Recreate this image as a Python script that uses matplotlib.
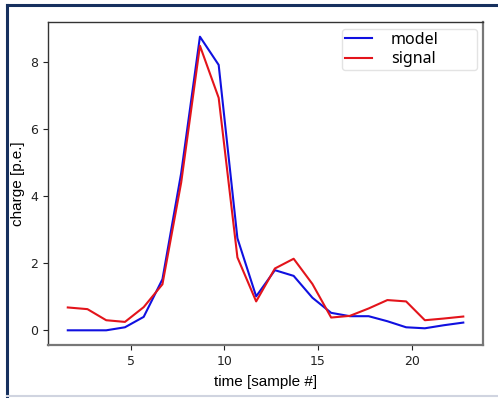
import matplotlib
matplotlib.use("Agg")
import matplotlib.pyplot as plt
from matplotlib.lines import Line2D

time = [1.65, 2.7, 3.7, 4.7, 5.7, 6.7, 7.7, 8.7, 9.7, 10.7, 11.7,
        12.7, 13.7, 14.7, 15.7, 16.7, 17.7, 18.7, 19.7, 20.7, 21.7, 22.75]
model = [0.0, 0.0, 0.0, 0.09, 0.4, 1.52, 4.68, 8.74, 7.9, 2.74, 1.01,
         1.79, 1.62, 0.97, 0.52, 0.42, 0.42, 0.27, 0.09, 0.06, 0.15, 0.23]
signal = [0.68, 0.63, 0.30, 0.25, 0.69, 1.37, 4.4, 8.47, 6.92, 2.17, 0.86,
          1.84, 2.13, 1.38, 0.38, 0.43, 0.65, 0.9, 0.86, 0.30, 0.35, 0.41]
xticks = [5, 10, 15, 20]
yticks = [0, 2, 4, 6, 8]

fig = plt.figure(figsize=(4.98, 3.98), dpi=100)
ax = fig.add_axes([0.0964, 0.1332, 0.8736, 0.8115])

ax.plot(time, model, color="#1010e0", lw=1.5, label="model")
ax.plot(time, signal, color="#e3141b", lw=1.5, label="signal")

ax.set_xticks(xticks)
ax.set_yticks(yticks)
ax.tick_params(labelsize=9, colors="#222222", length=3.5)
for s in ["left", "top"]:
    ax.spines[s].set_color("#333333")
    ax.spines[s].set_linewidth(1.0)
for s in ["right", "bottom"]:
    ax.spines[s].set_color("#777777")
    ax.spines[s].set_linewidth(1.6)

ax.set_xlabel("time [sample #]", fontsize=11, family="Liberation Sans", labelpad=5)
ax.set_ylabel("charge [p.e.]", fontsize=11, family="Liberation Sans", labelpad=4)

leg = ax.legend(loc="upper right", prop={"family": "Noto Sans", "size": 11.5},
                bbox_to_anchor=(0.676, 0.5, 0.310, 0.479), mode="expand",
                handlelength=1.65, handletextpad=1.2, borderaxespad=0.0,
                labelspacing=0.2, borderpad=0.2, fancybox=True)
leg.get_frame().set_edgecolor("#dddddd")

# figure frame (dark navy on top and left, light at bottom)
fig.add_artist(Line2D([0.015, 0.015], [0.0, 0.987], transform=fig.transFigure,
                      color="#17305e", lw=2.2))
fig.add_artist(Line2D([0.014, 1.0], [0.987, 0.987], transform=fig.transFigure,
                      color="#17305e", lw=2.2))
fig.add_artist(Line2D([0.015, 1.0], [0.004, 0.004], transform=fig.transFigure,
                      color="#d0d4e0", lw=1.5))

fig.savefig("out.png", dpi=100)
